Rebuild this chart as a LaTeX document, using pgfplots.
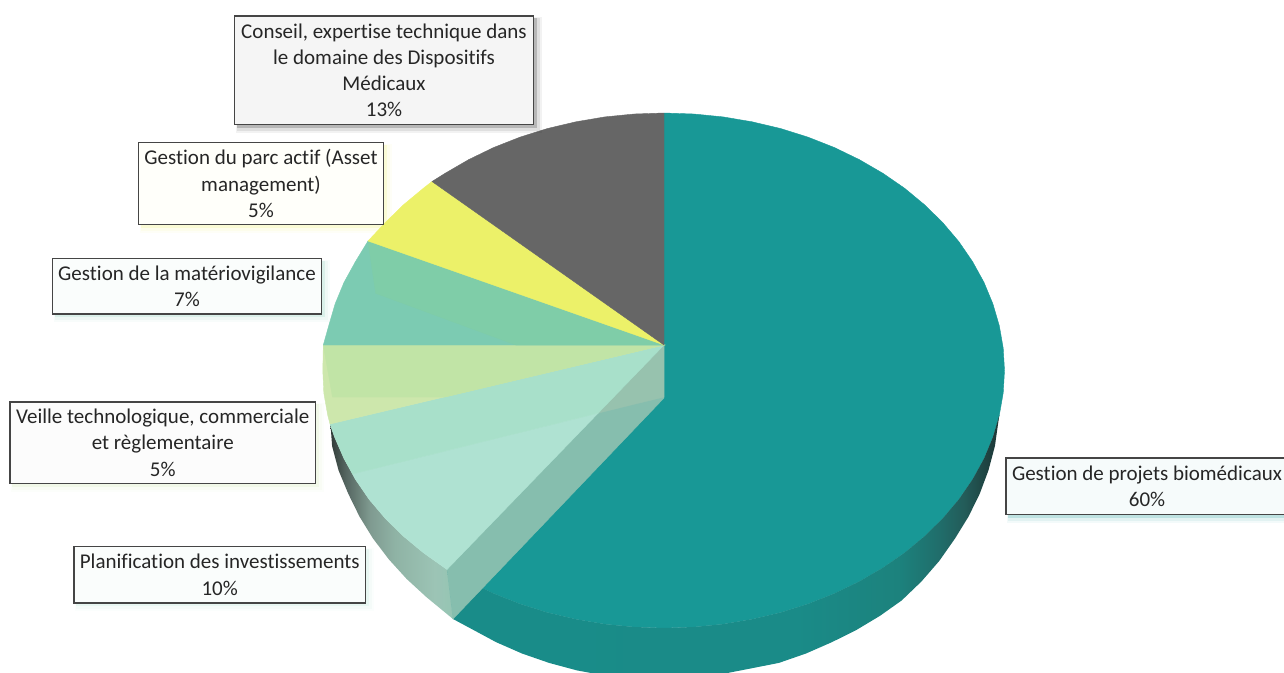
\documentclass[border=0pt]{standalone}
\usepackage{fontspec}
\setmainfont[Ligatures=CommonOff]{Carlito}
\usepackage{pgfplots}
\pgfplotsset{compat=1.18}

\definecolor{teal}{HTML}{189896}
\definecolor{slate}{HTML}{666666}
\definecolor{lemon}{HTML}{ECF169}
\definecolor{jade}{HTML}{7CCBB2}
\definecolor{jadeback}{HTML}{7FCDA8}
\definecolor{pale}{HTML}{CDE7AC}
\definecolor{paleback}{HTML}{C1E4A6}
\definecolor{mint}{HTML}{AFE2D2}
\definecolor{mintback}{HTML}{A8E0CA}
\definecolor{wall}{HTML}{86BEAE}
\definecolor{wallback}{HTML}{97C2AE}
\definecolor{labeltext}{HTML}{262626}
\definecolor{labelrule}{HTML}{454545}

% side of the large sector, darkening towards the right silhouette
\pgfdeclarehorizontalshading{tealside}{100bp}{
  rgb(0bp)=(.098,.549,.537); rgb(25bp)=(.098,.549,.537);
  rgb(56.7bp)=(.102,.545,.533); rgb(65.9bp)=(.110,.510,.490);
  rgb(69.5bp)=(.125,.430,.420); rgb(71.8bp)=(.137,.360,.350);
  rgb(73.6bp)=(.122,.275,.267);
  rgb(75bp)=(.110,.208,.204); rgb(100bp)=(.110,.208,.204)}
% side of the two lower-left sectors
\pgfdeclarehorizontalshading{mintside}{100bp}{
  rgb(0bp)=(.184,.227,.212); rgb(25bp)=(.184,.227,.212);
  rgb(31bp)=(.325,.388,.369); rgb(41.2bp)=(.498,.604,.565);
  rgb(51.4bp)=(.561,.702,.647); rgb(67.8bp)=(.612,.769,.710);
  rgb(75bp)=(.584,.773,.706); rgb(100bp)=(.584,.773,.706)}

\pgfplotsset{wedge/.style={draw=#1,fill=#1,line width=.4pt,forget plot,mark=none}}

% x0 y0 x1 y1 fill shadow text
\newcommand{\labelbox}[7]{%
  \fill[#6,opacity=.05] (axis cs:#1+1,#2+1) rectangle (axis cs:#3+8,#4+8);
  \fill[#6,opacity=.08] (axis cs:#1+2,#2+2) rectangle (axis cs:#3+6,#4+6);
  \fill[#6,opacity=.18] (axis cs:#1+2,#2+2) rectangle (axis cs:#3+3,#4+3);
  \draw[labelrule,line width=1.2pt,fill=#5] (axis cs:#1,#2) rectangle (axis cs:#3,#4);
  \node[text=labeltext,align=center,inner sep=0pt,font=\fontsize{21}{26.3}\selectfont]
    at (axis cs:{(#1+#3)/2},{(#2+#4)/2}) {#7};
}

\begin{document}
\begin{tikzpicture}
\begin{axis}[
  name=pie,
  scale only axis,
  width=1284pt,height=672pt,
  xmin=0,xmax=1284,ymin=0,ymax=672,
  y dir=reverse,
  hide axis,
  clip=true,
]
% top face of the 60% sector
\addplot[wedge=teal] coordinates {
 (664,345)(664,113)(693.7,114)(723.1,116.9)(752.1,121.8)(780.5,128.5)(807.9,137.1)
 (834.3,147.5)(859.3,159.6)(882.9,173.3)(904.8,188.4)(924.8,205)(942.9,222.8)
 (958.9,241.7)(972.6,261.7)(984,282.4)(992.9,303.9)(999.3,325.8)(1003.2,348)
 (1004.5,370.5)(1003.2,393)(999.3,415.2)(992.9,437.1)(984,458.6)(972.6,479.3)
 (958.9,499.3)(942.9,518.2)(924.8,536)(904.8,552.6)(882.9,567.7)(859.3,581.4)
 (834.3,593.5)(807.9,603.9)(780.5,612.5)(752.1,619.2)(723.1,624.1)(693.7,627)
 (664,628)(634.3,627)(604.9,624.1)(575.9,619.2)(547.5,612.5)(520.1,603.9)
 (493.7,593.5)(468.7,581.4)(447,569.5)} --cycle;
% rim of the 60% sector
\addplot[forget plot,mark=none,draw=none,shading=tealside] coordinates {
 (453,619)(471.3,628.8)(496,642.1)(522,653.5)(549.1,662.9)(577,670.4)(605.7,675.7)
 (634.7,678.9)(664,680)(693.3,678.9)(722.3,674)(751,668.4)(778.9,662.9)(806,653.5)
 (832,642.1)(856.7,629.8)(880,615.8)(901.6,600.5)(921.4,581.5)(939.2,561)(955,538.5)
 (968.5,516.6)(979.7,493.8)(988.5,470.2)(994.9,446.1)(999.3,415.2)
 (992.9,437.1)(984,458.6)(972.6,479.3)(958.9,499.3)(942.9,518.2)(924.8,536)(904.8,552.6)
 (882.9,567.7)(859.3,581.4)(834.3,593.5)(807.9,603.9)(780.5,612.5)(752.1,619.2)
 (723.1,624.1)(693.7,627)(664,628)(634.3,627)(604.9,624.1)(575.9,619.2)(547.5,612.5)
 (520.1,603.9)(493.7,593.5)(468.7,581.4)(447,569.5)} --cycle;
% rim of the lower-left sectors
\addplot[forget plot,mark=none,draw=none,shading=mintside] coordinates {
 (330,424)(331,431)(332.1,446.1)(338.5,470.2)(348.3,493.8)(359.5,516.6)(373,538.5)
 (388.8,559.3)(406.6,578.9)(426.4,597.1)(453,619)(447,569.5)(423.2,552.6)(403.2,536)
 (385.1,518.2)(369.1,499.3)(355.4,479.3)(344,458.6)(334.6,437.1)} --cycle;
% cut face of the 60% sector
\addplot[wedge=wall] coordinates {(664,345)(447,569.5)(453,619)(664,398)} --cycle;
\addplot[wedge=wallback] coordinates {(664,345)(598.2,413.1)(664,397)} --cycle;

% 10% sector
\addplot[wedge=mint] coordinates {
 (598.2,413.1)(352.5,474)(355.4,479.3)(369.1,499.3)(385.1,518.2)(403.2,536)
 (423.2,552.6)(447,569.5)} --cycle;
% 5% sector, Veille technologique
\addplot[wedge=mintback] coordinates {
 (664,345)(330,424)(334.6,437.1)(344,458.6)(352.5,474)(598.2,413.1)} --cycle;
% 5% sector, lower band of the 7% neighbour
\addplot[wedge=pale] coordinates {
 (664,345)(323.3,345)(322.8,370.5)(323.8,393)(327.7,415.2)(330,424)} --cycle;
\addplot[wedge=paleback] coordinates {(664,345)(323.3,345)(332.5,397)(445,397)} --cycle;
% 7% sector
\addplot[wedge=jade] coordinates {
 (664,345)(368,241)(355.4,261.7)(344,282.4)(335.1,303.9)(328.7,325.8)(323.3,345)} --cycle;
\addplot[wedge=jadeback] coordinates {(664,345)(368,241)(375.7,293.3)(516,345)} --cycle;
% 5% sector, Gestion du parc actif
\addplot[wedge=lemon] coordinates {
 (664,345)(432,181.5)(423.2,188.4)(403.2,205)(385.1,222.8)(368,241)} --cycle;
% 13% sector
\addplot[wedge=slate] coordinates {
 (664,345)(664,113)(634.3,114)(604.9,116.9)(575.9,121.8)(547.5,128.5)(520.1,137.1)
 (493.7,147.5)(468.7,159.6)(445.1,173.3)(432,181.5)} --cycle;

\labelbox{234.5}{16}{533.5}{124.5}{black!4}{black}{Conseil, expertise technique dans\\le domaine des Dispositifs\\Médicaux\\13\%}
\labelbox{138.5}{142.5}{383.5}{224.5}{yellow!2}{lemon}{Gestion du parc actif (Asset\\management)\\5\%}
\labelbox{52.5}{258.5}{321.5}{314}{jade!4}{jade}{Gestion de la matériovigilance\\7\%}
\labelbox{10}{402}{315.5}{483.5}{black!1}{pale}{Veille technologique, commerciale\\et règlementaire\\5\%}
\labelbox{74}{546.5}{365.5}{603}{mint!6}{mint}{Planification des investissements\\10\%}
\labelbox{1006}{458}{1288}{514.5}{teal!4}{teal}{Gestion de projets biomédicaux\\60\%}
\end{axis}
\pgfresetboundingbox
\path[use as bounding box] (pie.south west) rectangle (pie.north east);
\end{tikzpicture}
\end{document}
